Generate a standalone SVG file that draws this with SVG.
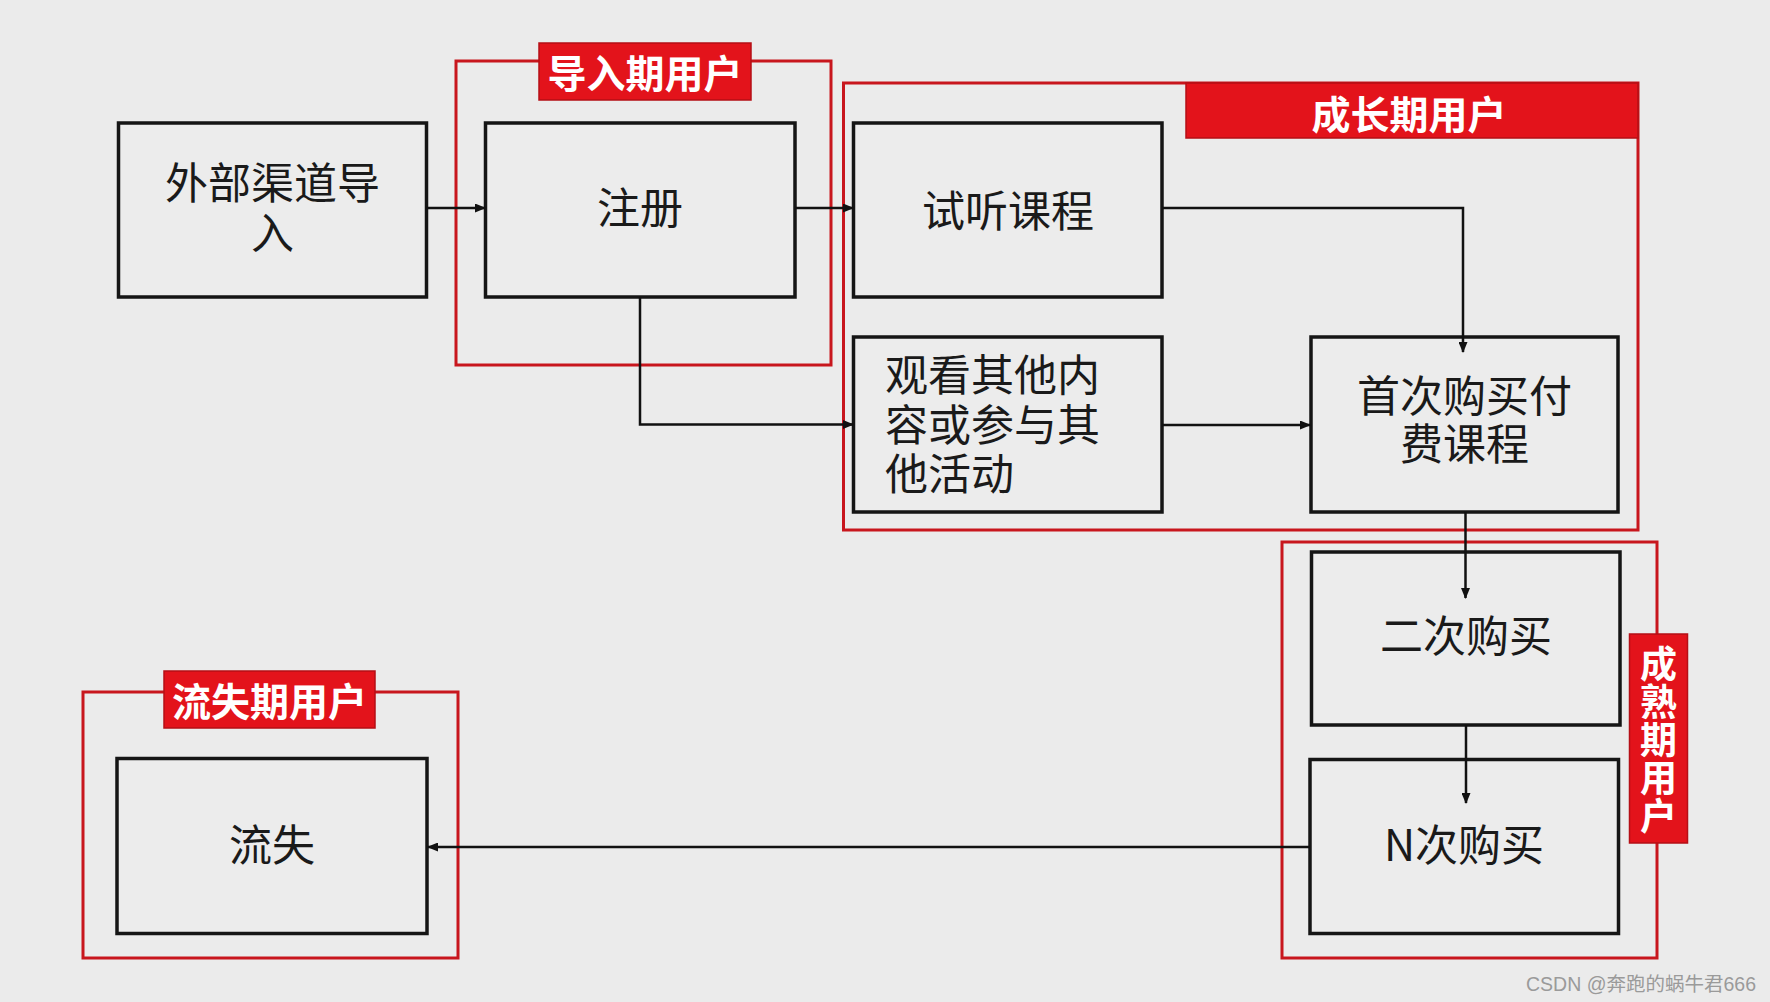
<svg xmlns="http://www.w3.org/2000/svg" width="1770" height="1002" viewBox="0 0 1770 1002">
<style>
.bg{fill:#ebebeb}
.grp{fill:none;stroke:#c8161d;stroke-width:3}
.lab{fill:#e3131b;stroke:#b50f16;stroke-width:1.5}
.labt{fill:#ffffff;font-family:"Noto Sans CJK SC","Noto Sans",sans-serif;font-size:39px;font-weight:bold;text-anchor:middle;dominant-baseline:central}
.node{fill:#ececec;stroke:#151515;stroke-width:3.5}
.t{fill:#1a1a1a;font-family:"Noto Sans CJK SC","Noto Sans",sans-serif;font-size:43px;text-anchor:middle;dominant-baseline:central}
.tl{text-anchor:start}
.con{fill:none;stroke:#111;stroke-width:2.5;marker-end:url(#arr)}
.wm{fill:#9a9a9a;font-family:"Liberation Sans","Noto Sans CJK SC",sans-serif;font-size:19.5px}
</style>
<defs>
<marker id="arr" markerUnits="userSpaceOnUse" markerWidth="11" markerHeight="9" refX="10" refY="4.5" orient="auto">
<path d="M0,0 L11,4.5 L0,9 z" fill="#111"/>
</marker>
</defs>
<rect class="bg" x="0" y="0" width="1770" height="1002"/>

<g id="groups">
<g id="grp-import">
<rect class="grp" x="456" y="61" width="375" height="304"/>
<rect class="lab" x="539" y="43" width="212" height="57"/>
<text class="labt" x="645" y="71">导入期用户</text>
</g>
<g id="grp-growth">
<rect class="grp" x="843.5" y="83" width="794.5" height="447"/>
<rect class="lab" x="1186" y="83" width="452" height="55"/>
<text class="labt" x="1409" y="112">成长期用户</text>
</g>
<g id="grp-mature">
<rect class="grp" x="1282" y="542" width="375" height="416"/>
<rect class="lab" x="1629.5" y="634" width="58" height="209"/>
<text class="labt" x="1658.5" y="740" style="writing-mode:vertical-rl;font-size:37px;letter-spacing:1px">成熟期用户</text>
</g>
<g id="grp-lost">
<rect class="grp" x="83" y="692" width="375" height="266"/>
<rect class="lab" x="164" y="671" width="211" height="57"/>
<text class="labt" x="269.5" y="699">流失期用户</text>
</g>
</g>

<g id="n-external">
<rect class="node" x="118.5" y="123" width="308" height="174"/>
<text class="t"><tspan x="272.5" y="180">外部渠道导</tspan><tspan x="272.5" y="230">入</tspan></text>
</g>
<g id="n-register">
<rect class="node" x="485.5" y="123" width="309.5" height="174"/>
<text class="t" x="640" y="205">注册</text>
</g>
<g id="n-trial">
<rect class="node" x="853.5" y="123" width="308.5" height="174"/>
<text class="t" x="1008" y="208">试听课程</text>
</g>
<g id="n-other">
<rect class="node" x="853.5" y="337" width="308.5" height="175"/>
<text class="t tl"><tspan x="885" y="372">观看其他内</tspan><tspan x="885" y="422">容或参与其</tspan><tspan x="885" y="471">他活动</tspan></text>
</g>
<g id="n-first">
<rect class="node" x="1311" y="337" width="307" height="175"/>
<text class="t"><tspan x="1464.5" y="393">首次购买付</tspan><tspan x="1464.5" y="441">费课程</tspan></text>
</g>
<g id="n-second">
<rect class="node" x="1311.5" y="552" width="308.5" height="173"/>
<text class="t" x="1466" y="633">二次购买</text>
</g>
<g id="n-nth">
<rect class="node" x="1310" y="759.5" width="308.5" height="174"/>
<text class="t" x="1464" y="842">N次购买</text>
</g>
<g id="n-lost">
<rect class="node" x="117" y="758.5" width="310" height="175"/>
<text class="t" x="272" y="842">流失</text>
</g>

<g id="connectors">
<path class="con" d="M426.5,208 H485"/>
<path class="con" d="M795,208 H853"/>
<path class="con" d="M640,297 V424.5 H853"/>
<path class="con" d="M1162,208 H1463 V352"/>
<path class="con" d="M1162,425 H1310"/>
<path class="con" d="M1465.5,512 V598"/>
<path class="con" d="M1466,725 V803"/>
<path class="con" d="M1310,847 H428"/>
</g>

<text class="wm" x="1526" y="991">CSDN @奔跑的蜗牛君666</text>
</svg>
